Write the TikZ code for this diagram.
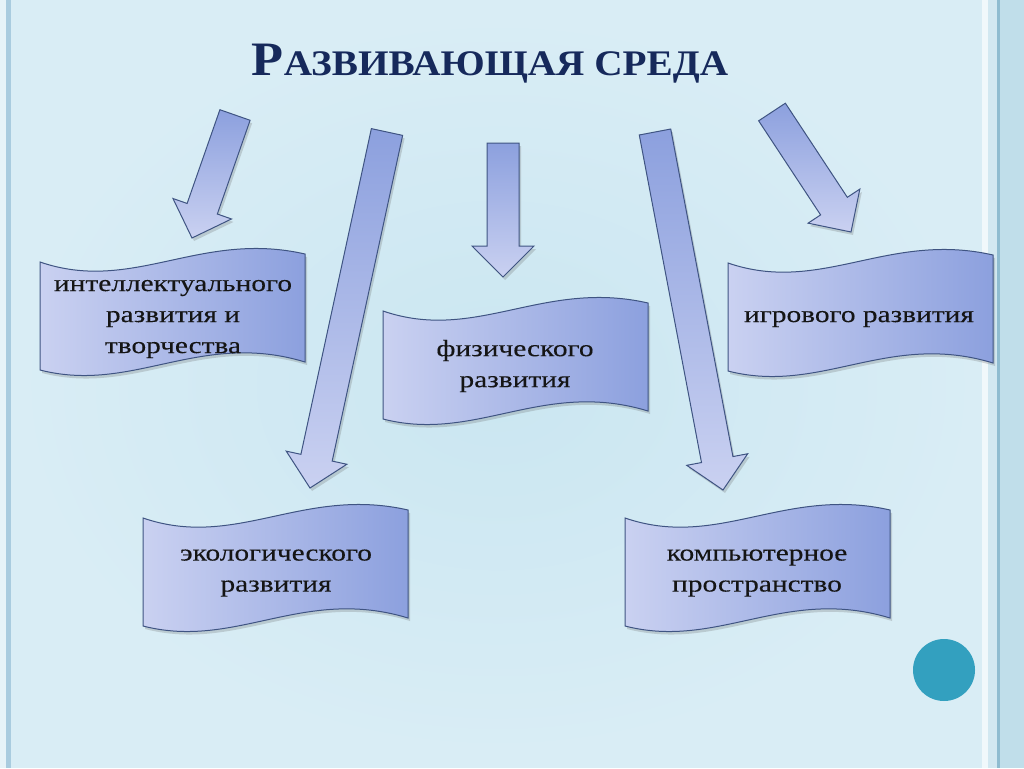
\documentclass[tikz,border=0pt]{standalone}
\usepackage{fontspec}
\setmainfont{Liberation Serif}
\newfontfamily\bannerfont[FakeStretch=1.25,FakeBold=0.15]{Liberation Serif}
\newfontfamily\titlefont[FakeStretch=1.09]{Liberation Serif}
\usetikzlibrary{calc,shadows}
\definecolor{bgbase}{HTML}{D9EDF5}
\definecolor{bginner}{HTML}{CAE6F1}
\definecolor{stripedark}{HTML}{A9CCDF}
\definecolor{stripelight}{HTML}{E6F3F8}
\definecolor{rightline}{HTML}{8FBCD0}
\definecolor{rightbg}{HTML}{C0DEEA}
\definecolor{titleblue}{HTML}{16295B}
\definecolor{shapeedge}{HTML}{3F5482}
\definecolor{shapelight}{HTML}{CAD1F1}
\definecolor{shapedark}{HTML}{8CA0DE}
\definecolor{dotblue}{HTML}{33A0BF}
\definecolor{textdark}{HTML}{151515}
\tikzset{
  bannerbox/.style={draw=shapeedge, line width=1pt, left color=shapelight, right color=shapedark,
    drop shadow={shadow xshift=2pt, shadow yshift=-3pt, opacity=0.25, fill=black!60}},
  arrowbox/.style={draw=shapeedge, line width=1pt, line join=miter, top color=shapedark, bottom color=shapelight,
    drop shadow={shadow xshift=2pt, shadow yshift=-3pt, opacity=0.25, fill=black!60}},
  bannertext/.style={font=\bannerfont\fontsize{23.5}{31}\selectfont, text=textdark, align=center, inner sep=0pt},
}
% banner: top-left x, top-left y
\newcommand{\bannershape}[2]{%
  \path[bannerbox] (#1,#2) .. controls (#1+93,#2+32) and (#1+160,#2-32) .. (#1+265,#2-8)
    -- (#1+265,#2+100) .. controls (#1+160,#2+68) and (#1+93,#2+132) .. (#1,#2+108) -- cycle;}
% block arrow: tail coordinate name, tip coordinate name
\newcommand{\blockarrow}[2]{%
  \coordinate (hb) at ($(#2)!31pt!(#1)$);
  \path[arrowbox] ($(#1)!16pt!90:(#2)$) -- ($(hb)!16pt!90:(#2)$) -- ($(hb)!31pt!90:(#2)$) -- (#2)
    -- ($(hb)!31pt!-90:(#2)$) -- ($(hb)!16pt!-90:(#2)$) -- ($(#1)!16pt!-90:(#2)$) -- cycle;}
\begin{document}
\begin{tikzpicture}[x=1pt,y=-1pt]
\useasboundingbox (0,0) rectangle (1024,768);
% background
\fill[bgbase] (0,0) rectangle (1024,768);
\shade[inner color=bginner, outer color=bgbase] (15,15) rectangle (980,755);
\fill[stripelight] (0,0) rectangle (6,768);
\fill[stripedark] (6,0) rectangle (11,768);
\fill[white!60!bgbase] (982,0) rectangle (988,768);
\fill[bgbase!90!rightline] (988,0) rectangle (997,768);
\fill[rightline] (997,0) rectangle (1000,768);
\fill[rightbg] (1000,0) rectangle (1024,768);
% title
\node[anchor=base, text=titleblue, inner sep=0pt] (title) at (490,75)
  {\titlefont\bfseries\fontsize{48}{48}\selectfont Р\fontsize{36}{36}\selectfont АЗВИВАЮЩАЯ СРЕДА};
% arrows
\coordinate (a1t) at (235,115); \coordinate (a1h) at (192,238);
\coordinate (a2t) at (387,132); \coordinate (a2h) at (310,488);
\coordinate (a3t) at (503,143); \coordinate (a3h) at (503,277);
\coordinate (a4t) at (655,132); \coordinate (a4h) at (723,490);
\coordinate (a5t) at (772,112); \coordinate (a5h) at (851,232);
\blockarrow{a1t}{a1h}
\blockarrow{a3t}{a3h}
\blockarrow{a5t}{a5h}
% banners
\bannershape{40}{262}
\bannershape{383}{311}
\bannershape{728}{263}
\bannershape{143}{518}
\bannershape{625}{518}
\blockarrow{a2t}{a2h}
\blockarrow{a4t}{a4h}
% texts
\node[bannertext] (intel) at (173,319) {интеллектуального\\развития и\\творчества};
\node[bannertext] (phys) at (515,366) {физического\\развития};
\node[bannertext] (game) at (859,319) {игрового развития};
\node[bannertext] (eco) at (276,573) {экологического\\развития};
\node[bannertext] (comp) at (757,573) {компьютерное\\пространство};
% dot
\node[circle, fill=dotblue, minimum size=62pt, inner sep=0pt] (dot) at (944,670) {};
\end{tikzpicture}
\end{document}
